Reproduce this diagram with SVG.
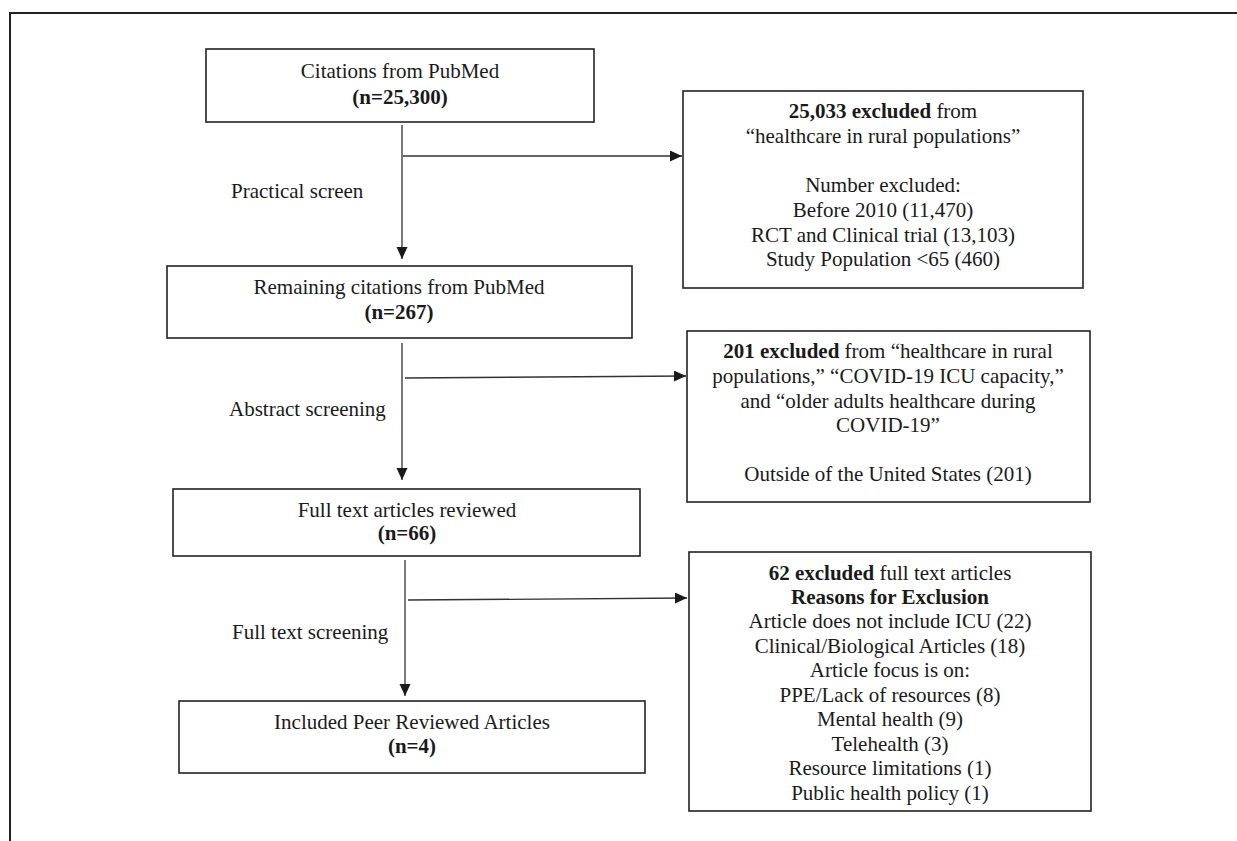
<svg xmlns="http://www.w3.org/2000/svg" width="1237" height="841" viewBox="0 0 1237 841">
<style>
.box{fill:#fff;stroke:#222;stroke-width:1.6}
.ln{fill:none;stroke:#333;stroke-width:1.3}
.t{font-family:"Liberation Serif","Times New Roman",serif;font-size:21px;fill:#1a1a1a}
.c{text-anchor:middle}
.b{font-weight:bold}
</style>
<defs>
<marker id="ah" markerUnits="userSpaceOnUse" markerWidth="13" markerHeight="12" refX="12" refY="5.5" orient="auto">
<path d="M0,0 L12,5.5 L0,11 z" fill="#1a1a1a"/>
</marker>
</defs>
<rect width="1237" height="841" fill="#fff"/>
<polyline points="10,841 10,13 1237,13" fill="none" stroke="#222" stroke-width="2"/>

<g id="connectors">
<line class="ln" x1="402" y1="125" x2="402" y2="259" marker-end="url(#ah)"/>
<line class="ln" x1="403" y1="156" x2="682" y2="156" marker-end="url(#ah)"/>
<line class="ln" x1="402" y1="343" x2="402" y2="480" marker-end="url(#ah)"/>
<line class="ln" x1="405" y1="378" x2="686" y2="376" marker-end="url(#ah)"/>
<line class="ln" x1="405" y1="560" x2="405" y2="696" marker-end="url(#ah)"/>
<line class="ln" x1="408" y1="600" x2="687" y2="598" marker-end="url(#ah)"/>
<text class="t" x="231" y="198">Practical screen</text>
<text class="t" x="229" y="416">Abstract screening</text>
<text class="t" x="232" y="639">Full text screening</text>
</g>

<g id="n1">
<rect class="box" x="206" y="49" width="388" height="73"/>
<text class="t c" x="400" y="78">Citations from PubMed</text>
<text class="t c b" x="400" y="104">(n=25,300)</text>
</g>

<g id="n2">
<rect class="box" x="167" y="266" width="465" height="72"/>
<text class="t c" x="399" y="294">Remaining citations from PubMed</text>
<text class="t c b" x="399" y="319">(n=267)</text>
</g>

<g id="n3">
<rect class="box" x="173" y="489" width="467" height="67"/>
<text class="t c" x="407" y="517">Full text articles reviewed</text>
<text class="t c b" x="407" y="540">(n=66)</text>
</g>

<g id="n4">
<rect class="box" x="179" y="701" width="466" height="72"/>
<text class="t c" x="412" y="729">Included Peer Reviewed Articles</text>
<text class="t c b" x="412" y="753">(n=4)</text>
</g>

<g id="e1">
<rect class="box" x="683" y="91" width="400" height="197"/>
<text class="t c" x="883" y="118"><tspan class="b">25,033 excluded</tspan> from</text>
<text class="t c" x="883" y="143">“healthcare in rural populations”</text>
<text class="t c" x="883" y="192">Number excluded:</text>
<text class="t c" x="883" y="217">Before 2010 (11,470)</text>
<text class="t c" x="883" y="242">RCT and Clinical trial (13,103)</text>
<text class="t c" x="883" y="266">Study Population &lt;65 (460)</text>
</g>

<g id="e2">
<rect class="box" x="687" y="331" width="403" height="171"/>
<text class="t c" x="888" y="358"><tspan class="b">201 excluded</tspan> from “healthcare in rural</text>
<text class="t c" x="888" y="383">populations,” “COVID-19 ICU capacity,”</text>
<text class="t c" x="888" y="408">and “older adults healthcare during</text>
<text class="t c" x="888" y="432">COVID-19”</text>
<text class="t c" x="888" y="481">Outside of the United States (201)</text>
</g>

<g id="e3">
<rect class="box" x="689" y="552" width="402" height="259"/>
<text class="t c" x="890" y="580"><tspan class="b">62 excluded</tspan> full text articles</text>
<text class="t c b" x="890" y="604">Reasons for Exclusion</text>
<text class="t c" x="890" y="628">Article does not include ICU (22)</text>
<text class="t c" x="890" y="653">Clinical/Biological Articles (18)</text>
<text class="t c" x="890" y="677">Article focus is on:</text>
<text class="t c" x="890" y="702">PPE/Lack of resources (8)</text>
<text class="t c" x="890" y="726">Mental health (9)</text>
<text class="t c" x="890" y="751">Telehealth (3)</text>
<text class="t c" x="890" y="775">Resource limitations (1)</text>
<text class="t c" x="890" y="800">Public health policy (1)</text>
</g>
</svg>
